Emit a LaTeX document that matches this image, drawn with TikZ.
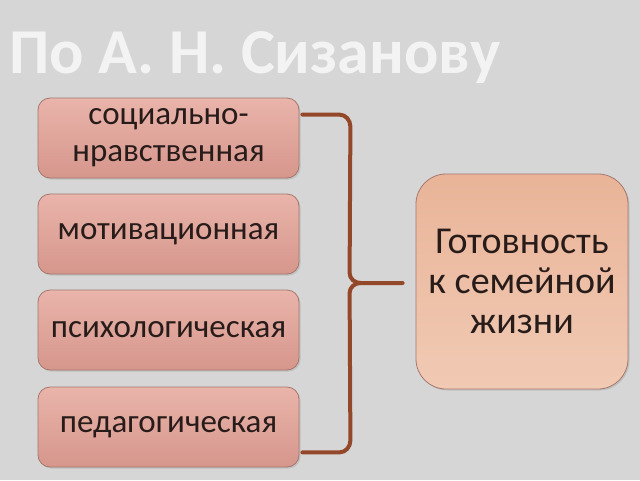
\documentclass[tikz,border=0pt]{standalone}
\usepackage{fontspec}
\setmainfont{Carlito}
\usetikzlibrary{calc,shadows}
\definecolor{bg}{RGB}{214,214,214}
\definecolor{boxtop}{RGB}{233,180,170}
\definecolor{boxbot}{RGB}{214,150,140}
\definecolor{boxline}{RGB}{165,120,110}
\definecolor{bigtop}{RGB}{233,180,152}
\definecolor{bigbot}{RGB}{241,202,180}
\definecolor{brace}{RGB}{148,72,42}
\definecolor{txt}{RGB}{40,28,26}
\definecolor{title}{RGB}{243,243,243}
\tikzset{
  smallbox/.style={draw=boxline, line width=0.8pt, rounded corners=12pt,
    top color=boxtop, bottom color=boxbot,
    minimum width=261pt, minimum height=80pt, inner sep=0pt,
    text=txt, font=\fontsize{33}{37}\selectfont, align=center,
    drop shadow={shadow xshift=1.5pt, shadow yshift=-1.5pt, opacity=0.25}},
  bigbox/.style={draw=boxline, line width=0.8pt, rounded corners=30pt,
    top color=bigtop, bottom color=bigbot,
    minimum width=212pt, minimum height=215pt, inner sep=0pt,
    text=txt, font=\fontsize{38}{40}\selectfont, align=center,
    drop shadow={shadow xshift=1.5pt, shadow yshift=-1.5pt, opacity=0.25}},
  bracestyle/.style={draw=brace, line width=4pt, line cap=round, line join=round}
}
\begin{document}
\begin{tikzpicture}[x=1pt,y=-1pt]
\fill[bg] (0,0) rectangle (640,480);
\useasboundingbox (0,0) rectangle (640,480);
\node[anchor=base west, text=title, font=\fontsize{64}{64}\selectfont\bfseries, inner sep=0pt] (title) at (9,73) {По А. Н. Сизанову};
\node[smallbox] (b1) at (168.5,138) {социально-\\нравственная};
\node[smallbox] (b2) at (168.5,234) {мотивационная};
\node[smallbox] (b3) at (168.5,330) {психологическая};
\node[smallbox] (b4) at (168.5,427) {педагогическая};
\node[bigbox] (big) at (522,281.5) {Готовность\\к семейной\\жизни};
\coordinate (s1) at ($(b1.north east)+(3,17)$);
\coordinate (s4) at ($(b4.south east)+(3,-15)$);
\coordinate (tip) at ($(big.west)+(-13,1.5)$);
\draw[bracestyle] (s1) -- ++(37,0) to[out=0,in=90] ++(11,12)
  -- ($(tip)+(-53,-10)$) to[out=-90,in=180] ($(tip)+(-42,0)$) -- (tip);
\draw[bracestyle] (s4) -- ++(37,0) to[out=0,in=-90] ++(11,-12)
  -- ($(tip)+(-53,10)$) to[out=90,in=180] ($(tip)+(-42,0)$);
\end{tikzpicture}
\end{document}
